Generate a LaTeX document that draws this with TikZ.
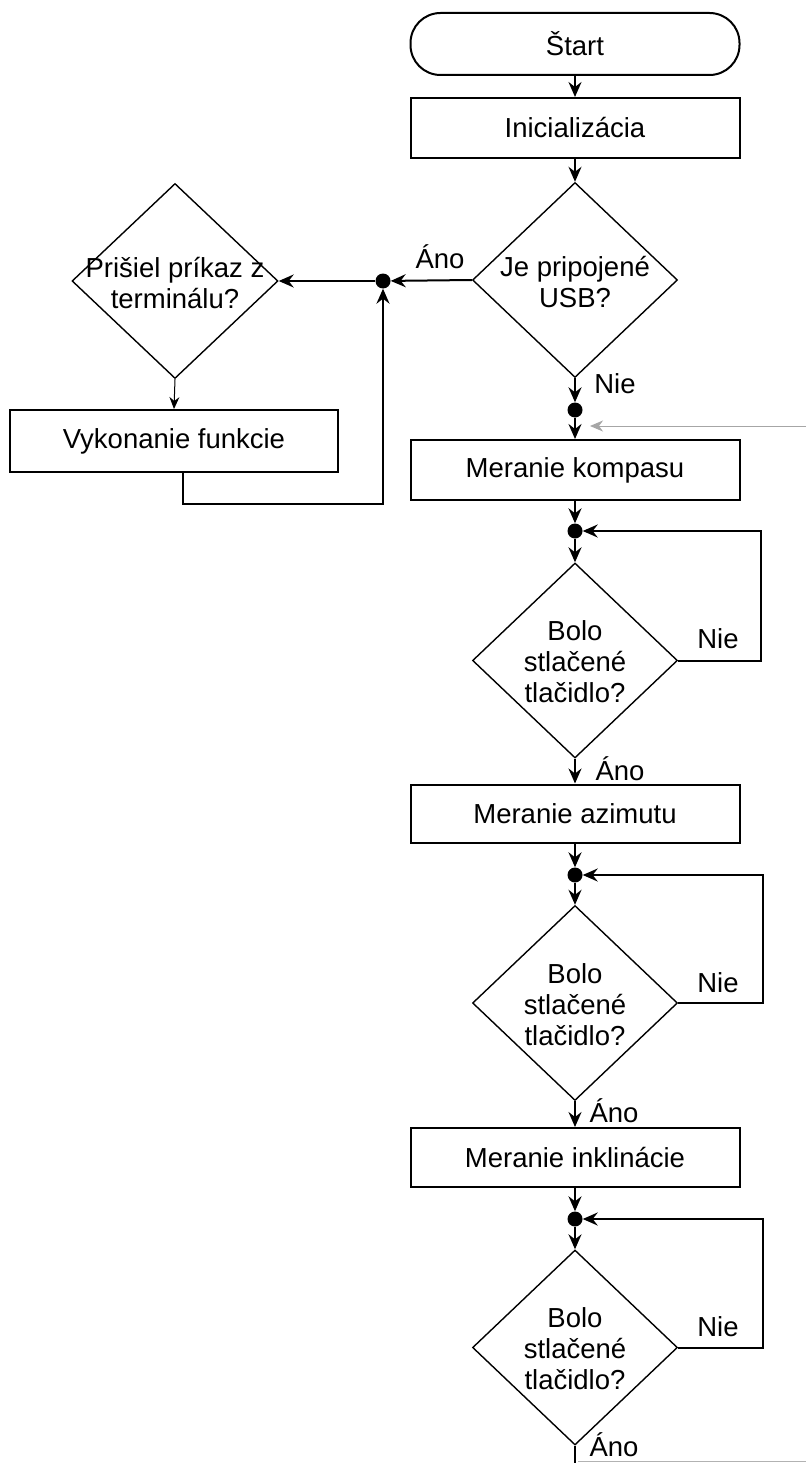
\documentclass[tikz,border=0pt]{standalone}
\usepackage{fontspec}
\setmainfont{Liberation Sans}
\usetikzlibrary{shapes.geometric,arrows.meta,calc}
\begin{document}
\begin{tikzpicture}[x=1pt,y=-1pt,
  txt/.style={font=\fontsize{27.5}{31}\selectfont, inner sep=0pt, align=center},
  box/.style={draw, line width=2pt, minimum width=329pt, minimum height=60pt, inner sep=0pt, font=\fontsize{27.5}{31}\selectfont},
  term/.style={box, rounded corners=30pt, minimum height=62pt},
  dia/.style={draw, diamond, line width=1.4pt, inner sep=0pt, minimum width=205pt, minimum height=195pt},
  dot/.style={circle, fill=black, inner sep=0pt, minimum size=15pt},
  arr/.style={line width=2pt, -{Stealth[length=15pt, width=13pt, inset=5pt]}},
  ln/.style={line width=2pt},
  lbl/.style={font=\fontsize{27.5}{31}\selectfont, inner sep=0pt}]
\useasboundingbox (0,0) rectangle (806,1463);
\fill[white] (0,0) rectangle (806,1463);
% main column
\node[term] (start) at (575,44) {Štart};
\node[box] (init) at (575,128) {Inicializácia};
\node[dia] (usb) at (575,280) {};
\node[txt] at (575,282) {Je pripojené\\USB?};
\node[dot] (j1) at (383,281) {};
\node[dia, minimum width=206pt] (term) at (175,281) {};
\node[txt] at (175,283) {Prišiel príkaz z\\terminálu?};
\node[box, minimum width=328pt, minimum height=62pt] (vyk) at (174,441) {Vykonanie funkcie};
\node[dot] (j2) at (575,410) {};
\node[box] (mk) at (575,470) {Meranie kompasu};
\node[dot] (j3) at (575,531) {};
\node[dia] (d2) at (575,660.5) {};
\node[txt] at (575,662) {Bolo\\stlačené\\tlačidlo?};
\node[box, minimum height=58pt] (ma) at (575,813.5) {Meranie azimutu};
\node[dot] (j4) at (575,875) {};
\node[dia] (d3) at (575,1003) {};
\node[txt] at (575,1005) {Bolo\\stlačené\\tlačidlo?};
\node[box, minimum height=59pt] (mi) at (575,1157.5) {Meranie inklinácie};
\node[dot] (j5) at (575,1219) {};
\node[dia] (d4) at (575,1347.5) {};
\node[txt] at (575,1349) {Bolo\\stlačené\\tlačidlo?};
\coordinate (gin) at (806,426);
\coordinate (gend) at (590,426);
\coordinate (bend) at (575,1461);
\coordinate (bright) at (806,1461);
% labels
\node[lbl] at (440,257) {Áno};
\node[lbl] at (615,384) {Nie};
\node[lbl] at (718,639) {Nie};
\node[lbl] at (620,769) {Áno};
\node[lbl] at (718,983) {Nie};
\node[lbl] at (614,1111) {Áno};
\node[lbl] at (718,1327) {Nie};
\node[lbl] at (614,1445) {Áno};
% connectors
\draw[arr] (start) -- (init);
\draw[arr] (init) -- (usb.north);
\draw[arr] (usb.west) -- (j1);
\draw[arr] (j1) -- (term.east);
\draw[line width=1pt, -{Stealth[length=12pt, width=10pt, inset=4pt]}] (term.south) -- (vyk.north);
\draw[arr] ([xshift=9pt]vyk.south) -- ++(0,31) -| (j1);
\draw[arr] (usb.south) -- (j2);
\draw[arr] (j2) -- (mk.north);
\draw[gray!70, line width=1pt, -{Stealth[length=13pt, width=11pt, inset=4pt]}] (gin) -- (gend);
\draw[arr] (mk.south) -- (j3);
\draw[arr] (j3) -- (d2.north);
\draw[arr] (d2.east) -- ++(83,0) |- (j3);
\draw[arr] (d2.south) -- (ma.north);
\draw[arr] (ma.south) -- (j4);
\draw[arr] (j4) -- (d3.north);
\draw[arr] (d3.east) -- ++(85,0) |- (j4);
\draw[arr] (d3.south) -- (mi.north);
\draw[arr] (mi.south) -- (j5);
\draw[arr] (j5) -- (d4.north);
\draw[arr] (d4.east) -- ++(85,0) |- (j5);
\draw[ln] (d4.south) -- (575,1463);
\draw[gray!60, line width=1pt] (bend) ++(3,0) -- (bright);
\end{tikzpicture}
\end{document}
